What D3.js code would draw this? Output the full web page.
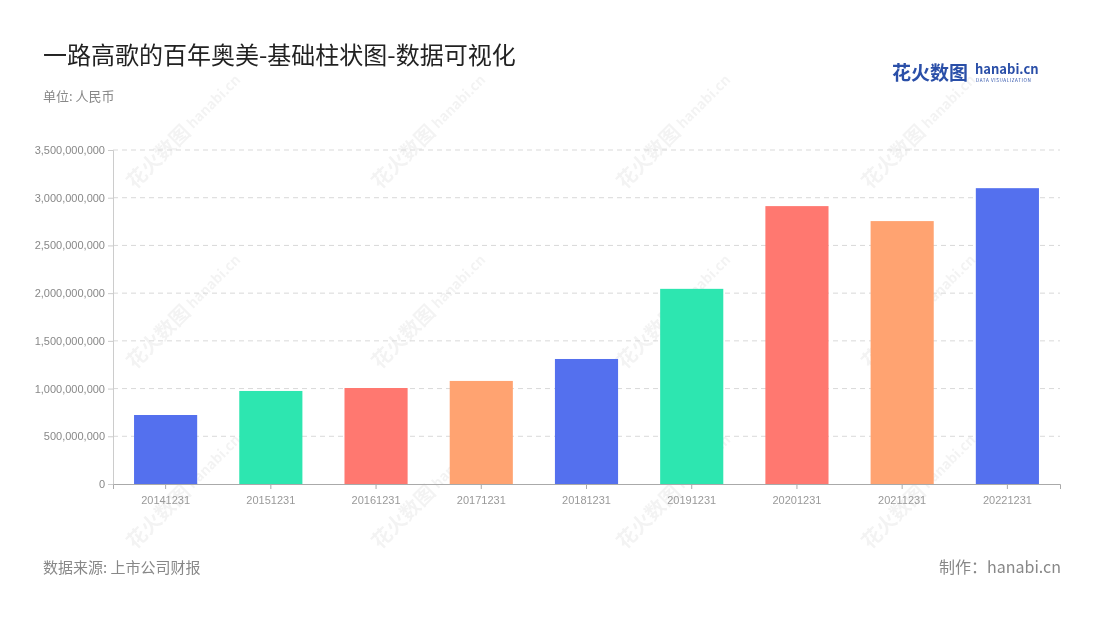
<!DOCTYPE html>
<html><head><meta charset="utf-8">
<script src="https://cdn.jsdelivr.net/npm/d3@7"></script>
<style>body{margin:0;background:#fff;font-family:"Noto Sans CJK SC","Noto Sans",sans-serif;}</style>
</head><body><div id="chart"></div>
<script>
// Data
const years = ["20141231","20151231","20161231","20171231","20181231","20191231","20201231","20211231","20221231"];
const revenue = [723000000,975000000,1006000000,1080000000,1310000000,2045000000,2912000000,2755000000,3100000000];
const palette = ["#5470ee","#2de6b0","#ff7870","#ffa371"];
const yTicks = [0,500000000,1000000000,1500000000,2000000000,2500000000,3000000000,3500000000];

const W = 1100, H = 620;
const margin = {top: 150, right: 40, bottom: 136, left: 113};
const width = W - margin.left - margin.right;
const height = H - margin.top - margin.bottom;

const svg = d3.select("#chart").append("svg").attr("width", W).attr("height", H);

// Watermarks
const wm = svg.append("g").attr("opacity", 0.05);
[[135,190],[380,190],[625,190],[870,190],[135,370],[380,370],[625,370],[870,370],[135,550],[380,550],[625,550],[870,550]].forEach(p => {
    const t = wm.append("g").attr("transform", `translate(${p[0]},${p[1]}) rotate(-45)`);
    t.append("text").attr("font-size", 20).attr("font-weight", "bold").attr("fill", "#000").text("花火数图");
    t.append("text").attr("x", 84).attr("y", -2).attr("font-size", 14).attr("font-weight", "bold").attr("fill", "#000").text("hanabi.cn");
});

// Title
svg.append("text").attr("x", 43).attr("y", 64).attr("font-size", 24).attr("fill", "#222").text("一路高歌的百年奥美-基础柱状图-数据可视化");
svg.append("text").attr("x", 43).attr("y", 101).attr("font-size", 13).attr("fill", "#888").text("单位: 人民币");

// Logo
svg.append("text").attr("x", 892).attr("y", 80).attr("font-size", 19).attr("font-weight", "bold").attr("fill", "#2a4fa8").text("花火数图");
svg.append("text").attr("x", 975).attr("y", 74).attr("font-size", 13).attr("font-weight", "bold").attr("fill", "#2a4fa8").text("hanabi.cn");
svg.append("text").attr("x", 976).attr("y", 81.5).attr("font-size", 4.6).attr("fill", "#2a4fa8").attr("letter-spacing", 0.6).text("DATA VISUALIZATION");

const g = svg.append("g").attr("transform", `translate(${margin.left},${margin.top})`);

const x = d3.scaleBand().domain(years).range([0, width]).paddingInner(0.4).paddingOuter(0.2);
const y = d3.scaleLinear().domain([0, 3500000000]).range([height, 0]);

// Grid
g.selectAll(".grid").data(yTicks.slice(1)).enter().append("line")
    .attr("x1", 0).attr("x2", width)
    .attr("y1", d => y(d)).attr("y2", d => y(d))
    .attr("stroke", "#d9d9d9").attr("stroke-dasharray", "5,4");

// Axes
const yAxis = g.append("g").call(d3.axisLeft(y).tickValues(yTicks).tickFormat(d3.format(",")).tickSize(5));
yAxis.select(".domain").attr("stroke", "#ccc");
yAxis.selectAll(".tick line").attr("stroke", "#ccc");
yAxis.selectAll("text").attr("fill", "#888").attr("font-size", 11);

const xAxis = g.append("g").attr("transform", `translate(0,${height})`).call(d3.axisBottom(x).tickSize(5));
xAxis.select(".domain").attr("stroke", "#aaa");
xAxis.selectAll(".tick line").attr("stroke", "#aaa");
xAxis.selectAll("text").attr("fill", "#999").attr("font-size", 11).attr("dy", "1.1em");

// Bars
g.selectAll(".bar").data(revenue).enter().append("rect")
    .attr("x", (d, i) => x(years[i]))
    .attr("y", d => y(d))
    .attr("width", x.bandwidth())
    .attr("height", d => height - y(d))
    .attr("fill", (d, i) => palette[i % palette.length]);

// Footer
svg.append("text").attr("x", 43).attr("y", 573).attr("font-size", 15).attr("fill", "#888").text("数据来源: 上市公司财报");
svg.append("text").attr("x", 1061).attr("y", 573).attr("font-size", 16).attr("fill", "#888").attr("text-anchor", "end").text("制作：hanabi.cn");
</script></body></html>
